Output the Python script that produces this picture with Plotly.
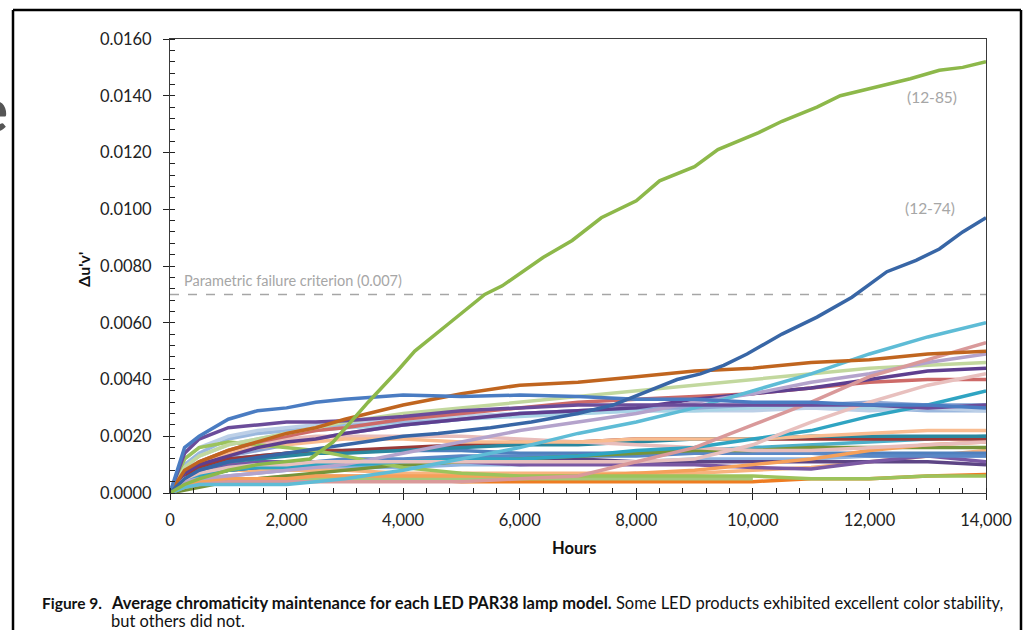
import plotly.graph_objects as go

# ---- data ----
HOURS = [0, 250, 500, 1000, 1500, 2000, 2500, 3000, 4000, 5000, 6000, 7000,
         8000, 9000, 10000, 11000, 12000, 13000, 14000]

# highlighted products
HOURS_12_85 = [0, 250, 500, 1000, 1500, 2000, 2400, 2800, 3100, 3400, 3900, 4200,
               4800, 5400, 5700, 6400, 6900, 7400, 8000, 8400, 9000, 9400, 10100,
               10500, 11100, 11500, 12100, 12700, 13200, 13600, 14000]
DUV_12_85 = [0, 0.0003, 0.0005, 0.0008, 0.0010, 0.0011, 0.0012, 0.0018, 0.0025,
             0.0032, 0.0043, 0.0050, 0.0060, 0.0070, 0.0073, 0.0083, 0.0089, 0.0097,
             0.0103, 0.0110, 0.0115, 0.0121, 0.0127, 0.0131, 0.0136, 0.0140, 0.0143,
             0.0146, 0.0149, 0.0150, 0.0152]

HOURS_12_74 = [0, 250, 500, 1000, 2000, 3000, 4000, 4600, 5500, 6200, 7000, 7600,
               8200, 8700, 9100, 9500, 9900, 10500, 11100, 11700, 12300, 12800,
               13200, 13600, 14000]
DUV_12_74 = [0, 0.0005, 0.0008, 0.0011, 0.0014, 0.0017, 0.0020, 0.0021, 0.0023,
             0.0025, 0.0028, 0.0031, 0.0036, 0.0040, 0.0042, 0.0045, 0.0049, 0.0056,
             0.0062, 0.0069, 0.0078, 0.0082, 0.0086, 0.0092, 0.0097]

# other products (values at HOURS)
BLUE_TOP = [0, .0016, .0020, .0026, .0029, .0030, .0032, .0033, .00345, .0034, .00345, .0034, .0033, .0033, .0032, .0032, .0031, .0031, .0030]
BROWN = [0, .0008, .0011, .0015, .0018, .0021, .0023, .0026, .0031, .0035, .0038, .0039, .0041, .0043, .0044, .0046, .0047, .0049, .0050]
PURPLE = [0, .0014, .0019, .0023, .0024, .0025, .0025, .00255, .0027, .0029, .0030, .0031, .0031, .0031, .0031, .0031, .0031, .0030, .0031]
CYAN = [0, .0002, .0003, .0003, .0003, .0003, .0004, .0005, .0008, .0012, .0016, .0021, .0025, .0030, .0036, .0042, .0049, .0055, .0060]
ROSE = [0, .0002, .0003, .0004, .0004, .0004, .0004, .0004, .0004, .0004, .0005, .0006, .0011, .0016, .0024, .0032, .0041, .0047, .0053]
LIGHT_PINK = [0, .0005, .0007, .0009, .0010, .0010, .0011, .0011, .0011, .0011, .0011, .0011, .0011, .0012, .0017, .0025, .0032, .0038, .0042]
LAVENDER = [0, .0004, .0005, .0006, .0007, .0008, .0009, .0010, .0014, .0018, .0022, .0025, .0028, .0032, .0035, .0039, .0042, .0046, .0049]
LIGHT_GREEN = [0, .0009, .0013, .0017, .0019, .0021, .0023, .0025, .0028, .0030, .0032, .0034, .0036, .0038, .0040, .0042, .0044, .0045, .0046]
DARK_PURPLE = [0, .0007, .0010, .0013, .0016, .0018, .0019, .0021, .0024, .0026, .0028, .0029, .0030, .0033, .0035, .0037, .0040, .0043, .0044]
RED = [0, .0007, .0011, .0015, .0018, .0020, .0022, .0023, .0026, .0028, .0030, .0032, .0033, .0034, .0035, .0037, .0039, .0040, .0040]
TEAL = [0, .0004, .0006, .0008, .0009, .0009, .0010, .0010, .0011, .0012, .0012, .0013, .0015, .0016, .0019, .0022, .0027, .0031, .0036]
PALE_BLUE_1 = [0, .0010, .0014, .0019, .0021, .0022, .0023, .0024, .0025, .0027, .0028, .0029, .0030, .0030, .0030, .0030, .0030, .0029, .0029]
PALE_BLUE_2 = [0, .0012, .0016, .0020, .0022, .0023, .0024, .0025, .0026, .0027, .0028, .0028, .0029, .0029, .0029, .0030, .0029, .0030, .0029]
PALE_CYAN = [0, .0009, .0013, .0017, .0019, .0021, .0022, .0023, .0024, .0026, .0027, .0028, .0029, .0029, .0030, .0031, .0030, .0031, .0031]
SLATE_BLUE = [0, .0006, .0009, .0013, .0015, .0017, .0019, .0021, .0024, .0026, .0028, .0029, .0030, .0030, .0031, .0031, .0032, .0031, .0031]
SALMON = [0, .0008, .0011, .0014, .0016, .0017, .0018, .0019, .0019, .0018, .0018, .0018, .0019, .0019, .0019, .0020, .0021, .0022, .0022]
DUSTY_PINK = [0, .0008, .0011, .0015, .0017, .0019, .0020, .0020, .0020, .0020, .0019, .0018, .0017, .0016, .0015, .0015, .0016, .0017, .0018]
DARK_TEAL = [0, .0005, .0008, .0011, .0012, .0013, .0014, .0014, .0015, .0016, .0017, .0017, .0018, .0019, .0019, .0020, .0020, .0020, .0020]
DARK_RED = [0, .0006, .0009, .0012, .0013, .0014, .0015, .0015, .0016, .0017, .0018, .0018, .0019, .0019, .0019, .0019, .0019, .0019, .0019]
ORANGE_RISE = [0, .0003, .0004, .0005, .0005, .0005, .0006, .0006, .0006, .0006, .0006, .0006, .0007, .0008, .0010, .0012, .0015, .0017, .0018]
OLIVE = [0, .0001, .0002, .0004, .0005, .0006, .0007, .0008, .0010, .0011, .0012, .0013, .0014, .0015, .0015, .0016, .0016, .0016, .0016]
CORNFLOWER = [0, .0005, .0007, .0009, .0010, .0011, .0011, .0012, .0012, .0013, .0013, .0013, .0013, .0014, .0014, .0014, .0013, .0013, .0013]
PURPLE_LOW = [0, .0006, .0008, .0010, .0011, .0011, .0011, .0011, .0011, .0011, .0010, .0010, .0010, .0010, .0009, .00085, .0011, .0013, .0011]
VIOLET_LOW = [0, .0004, .0006, .0008, .0009, .0010, .0010, .0011, .0011, .0012, .0012, .0012, .0011, .0011, .0011, .0011, .0011, .0011, .0010]
ORANGE_LOW = [0, .0003, .0004, .0005, .0005, .0005, .0005, .0005, .0005, .0004, .0004, .0004, .0004, .0004, .0004, .0005, .0005, .0006, .00065]
GREEN_LOW = [0, .0003, .0004, .0005, .0005, .0005, .0005, .0005, .0005, .0005, .0005, .0005, .0005, .0005, .0005, None, None, None, None]
GREEN_PEAK = [0, .0012, .0016, .0018, .0017, .0016, .0015, .0013, .0009, .0007, .0006, .0006, .0006, .0006, .0006, .0005, .0005, .0006, .0006]
PEACH_LOW = [0, .0005, .0007, .0008, .0008, .0008, .0008, .0008, .0007, .0007, .0007, .0007, .0007, .0007, .0008, .0009, .0011, .0013, .0015]
TEAL_MID = [0, .0004, .0006, .0008, .0009, .0009, .0010, .0010, .0010, .0011, .0012, .0013, .0014, .0015, .0016, .0017, .0018, .0019, .0020]
PINK_LOW = [0, .0003, .0004, .0005, .0005, .0006, .0006, .0006, .0006, .0006, .0006, .0006, .0007, None, None, None, None, None, None]
BLUE_MID = [0, .0007, .0010, .0012, .0013, .0014, .0014, .0015, .0015, .0015, .0014, .0014, .0014, .0014, .0014, .0014, .0014, .0014, .0014]
SKY_LOW = [0, .0004, .0005, .0006, .0007, .0008, .0008, .0009, .0009, .0010, .0010, .0011, .0011, .0012, .0012, .0012, .0013, .0013, .0013]

SERIES = [
    ("pale blue 1", "#9BB8DE", PALE_BLUE_1),
    ("pale blue 2", "#BCCFE7", PALE_BLUE_2),
    ("pale cyan", "#A8D4E6", PALE_CYAN),
    ("slate blue", "#8EA7D5", SLATE_BLUE),
    ("sky low", "#8FB3DF", SKY_LOW),
    ("pink low", "#E4A9A7", PINK_LOW),
    ("peach low", "#F7B37E", PEACH_LOW),
    ("teal mid", "#4EAFC9", TEAL_MID),
    ("blue mid", "#4F80BE", BLUE_MID),
    ("orange low", "#EE7C22", ORANGE_LOW),
    ("green low", "#A6C87A", GREEN_LOW),
    ("violet low", "#5D4585", VIOLET_LOW),
    ("purple low", "#7A58A3", PURPLE_LOW),
    ("cornflower", "#5A88C6", CORNFLOWER),
    ("olive", "#76943A", OLIVE),
    ("orange rise", "#F5A05A", ORANGE_RISE),
    ("dark red", "#9A3A38", DARK_RED),
    ("dark teal", "#2A879E", DARK_TEAL),
    ("dusty pink", "#E8BDBB", DUSTY_PINK),
    ("salmon", "#F9BC90", SALMON),
    ("green peak", "#9CC35C", GREEN_PEAK),
    ("teal", "#2FA4C2", TEAL),
    ("red", "#CD6A68", RED),
    ("dark purple", "#5E3F8F", DARK_PURPLE),
    ("light green", "#C2D89E", LIGHT_GREEN),
    ("lavender", "#B4A3CC", LAVENDER),
    ("light pink", "#E8C0BE", LIGHT_PINK),
    ("rose", "#D9999A", ROSE),
    ("cyan", "#5EBCD6", CYAN),
    ("purple", "#6B4C9A", PURPLE),
    ("brown", "#C0651F", BROWN),
    ("blue top", "#4A7CC2", BLUE_TOP),
]

FAILURE_CRITERION = 0.007
X_TICKS = [0, 2000, 4000, 6000, 8000, 10000, 12000, 14000]

FONT = "Lato, 'Open Sans', sans-serif"
LW = 3.5

fig = go.Figure()
for name, color, vals in SERIES:
    fig.add_trace(go.Scatter(x=HOURS, y=vals, mode="lines", name=name,
                             line=dict(color=color, width=LW), showlegend=False))
fig.add_trace(go.Scatter(x=HOURS_12_74, y=DUV_12_74, mode="lines", name="12-74",
                         line=dict(color="#3866A6", width=LW), showlegend=False))
fig.add_trace(go.Scatter(x=HOURS_12_85, y=DUV_12_85, mode="lines", name="12-85",
                         line=dict(color="#8DB84A", width=LW), showlegend=False))

# failure criterion line
fig.add_shape(type="line", xref="x", yref="y", x0=0, x1=14000,
              y0=FAILURE_CRITERION, y1=FAILURE_CRITERION,
              line=dict(color="#A6A6A6", width=1.5, dash="dash"), layer="below")

# outer frame of the figure (left, top, right sides)
def px_x(p):
    return (p - 170) / 816

def px_y(p):
    return (493 - p) / 454

for x0, y0, x1, y1 in [(13, 10, 13, 640), (13, 10, 1021, 10), (1021, 10, 1021, 640)]:
    fig.add_shape(type="line", xref="paper", yref="paper",
                  x0=px_x(x0), y0=px_y(y0), x1=px_x(x1), y1=px_y(y1),
                  line=dict(color="black", width=2.5))

axis_common = dict(showgrid=False, zeroline=False, showline=True, linecolor="#3A3A3A",
                   linewidth=1, mirror=True, ticks="outside", ticklen=6,
                   tickcolor="#222", tickfont=dict(family=FONT, size=16.5, color="#222"))

fig.update_layout(
    width=1032, height=630,
    margin=dict(l=170, r=46, t=39, b=137),
    paper_bgcolor="white", plot_bgcolor="white",
    font=dict(family=FONT),
    xaxis=dict(range=[0, 14000], tickvals=X_TICKS, tickformat=",d",
               ticklabelstandoff=6,
               minor=dict(dtick=400, ticks="inside", ticklen=5, tickcolor="#222"),
               **axis_common),
    yaxis=dict(range=[0, 0.016], dtick=0.002, tickformat=".4f",
               ticklabelstandoff=8,
               minor=dict(dtick=0.0004, ticks="inside", ticklen=5, tickcolor="#222"),
               **axis_common),
)

ann = []
ann.append(dict(x=206, y=0.0075, xref="x", yref="y", text="Parametric failure criterion (0.007)",
                showarrow=False, xanchor="left", yanchor="middle",
                font=dict(family=FONT, size=14.5, color="#A6A6A6")))
ann.append(dict(x=13075, y=0.01396, xref="x", yref="y", text="(12-85)", showarrow=False,
                xanchor="center", yanchor="middle",
                font=dict(family=FONT, size=15.5, color="#A6A6A6")))
ann.append(dict(x=13040, y=0.01004, xref="x", yref="y", text="(12-74)", showarrow=False,
                xanchor="center", yanchor="middle",
                font=dict(family=FONT, size=15.5, color="#A6A6A6")))
ann.append(dict(x=px_x(83), y=px_y(270), xref="paper", yref="paper",
                text="<b>Δu'v'</b>", textangle=-90, showarrow=False,
                xanchor="center", yanchor="middle",
                font=dict(family=FONT, size=16, color="#111")))
ann.append(dict(x=px_x(574), y=px_y(548), xref="paper", yref="paper",
                text="<b>Hours</b>", showarrow=False, xanchor="center", yanchor="middle",
                font=dict(family=FONT, size=16.5, color="#111")))
ann.append(dict(x=px_x(40), y=px_y(603), xref="paper", yref="paper",
                text="<b>Figure 9.</b>", showarrow=False, xanchor="left", yanchor="middle",
                font=dict(family=FONT, size=15.5, color="#111")))
ann.append(dict(x=px_x(109), y=px_y(603), xref="paper", yref="paper",
                text="<b>Average chromaticity maintenance for each LED PAR38 lamp model.</b> "
                     "Some LED products exhibited excellent color stability,",
                showarrow=False, xanchor="left", yanchor="middle", align="left",
                font=dict(family=FONT, size=16.5, color="#111")))
ann.append(dict(x=px_x(109), y=px_y(621), xref="paper", yref="paper",
                text="but others did not.",
                showarrow=False, xanchor="left", yanchor="middle", align="left",
                font=dict(family=FONT, size=16.5, color="#111")))
ann.append(dict(x=px_x(10), y=px_y(108), xref="paper", yref="paper",
                text="<b>e</b>", showarrow=False, xanchor="right", yanchor="middle",
                font=dict(family=FONT, size=62, color="#555")))
fig.update_layout(annotations=ann)

fig.write_html("out.html", config={"displayModeBar": False},
               post_script="document.body.style.margin='0';")
